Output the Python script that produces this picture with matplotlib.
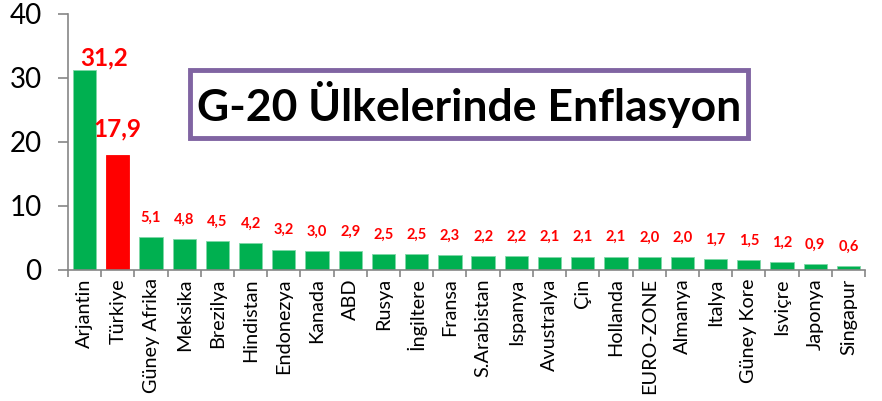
import matplotlib
matplotlib.use("Agg")
import matplotlib.pyplot as plt
from matplotlib.patches import Rectangle
import numpy as np

countries = ["Arjantin", "Türkiye", "Güney Afrika", "Meksika", "Brezilya", "Hindistan",
             "Endonezya", "Kanada", "ABD", "Rusya", "İngiltere", "Fransa", "S.Arabistan",
             "Ispanya", "Avustralya", "Çin", "Hollanda", "EURO-ZONE", "Almanya", "Italya",
             "Güney Kore", "Isviçre", "Japonya", "Singapur"]
values = [31.2, 17.9, 5.1, 4.8, 4.5, 4.2, 3.2, 3.0, 2.9, 2.5, 2.5, 2.3, 2.2, 2.2, 2.1,
          2.1, 2.1, 2.0, 2.0, 1.7, 1.5, 1.2, 0.9, 0.6]
highlight = "Türkiye"
title = "G-20 Ülkelerinde Enflasyon"
yticks = [0, 10, 20, 30, 40]

plt.rcParams['font.family'] = ['Lato', 'DejaVu Sans']

GREEN = "#00B050"
RED = "#FF0000"
AXC = "#868686"

fig = plt.figure(figsize=(8.82, 4.01), dpi=100)
ax = fig.add_axes([68/882, 1-270/401, (865-68)/882, (270-14)/401])

x = np.arange(len(countries))
colors = [RED if c == highlight else GREEN for c in countries]
bars = ax.bar(x, values, width=0.7, color=colors, edgecolor="#7FD8A8", linewidth=0.6, zorder=2)
for b, c in zip(bars, countries):
    if c == highlight:
        b.set_edgecolor(RED)

# label offsets in points (dx, dy) for the large labels
big_offsets = {0: (14, 1), 1: (0, 11)}
for i, v in enumerate(values):
    lbl = f"{v:.1f}".replace(".", ",")
    if v > 10:
        ax.annotate(lbl, (i, v), xytext=big_offsets.get(i, (0, 6)), textcoords="offset points",
                    ha="center", va="bottom", color=RED, fontsize=17.5, fontweight="bold")
    else:
        ax.annotate(lbl, (i, v), xytext=(0, 9), textcoords="offset points",
                    ha="center", va="bottom", color=RED, fontsize=10.5, fontweight="bold")

ax.set_xlim(-0.5, len(countries) - 0.5)
ax.set_ylim(0, 40)
ax.set_yticks(yticks)
ax.set_yticklabels([str(t) for t in yticks], fontsize=20)
ax.set_xticks(np.arange(len(countries) + 1) - 0.5, minor=False)
ax.set_xticklabels([])
ax.set_xticks(x, minor=True)
ax.set_xticklabels(countries, minor=True, rotation=90, fontsize=14.3)
ax.tick_params(axis="x", which="major", length=5, color=AXC, width=1.2)
ax.tick_params(axis="x", which="minor", length=0, pad=6)
ax.tick_params(axis="y", length=7, color=AXC, width=1.2, pad=12)
for s in ["top", "right"]:
    ax.spines[s].set_visible(False)
for s in ["left", "bottom"]:
    ax.spines[s].set_color(AXC)
    ax.spines[s].set_linewidth(1.2)

box = Rectangle((190/882, 1-138/401), (748-190)/882, (138-70)/401, transform=fig.transFigure,
                facecolor="white", edgecolor="#8064A2", linewidth=3.5, zorder=5)
fig.add_artist(box)
fig.text(469/882, 1-105/401, title, ha="center", va="center", fontsize=32, fontweight="bold",
         zorder=6)

fig.savefig("out.png", dpi=100)
